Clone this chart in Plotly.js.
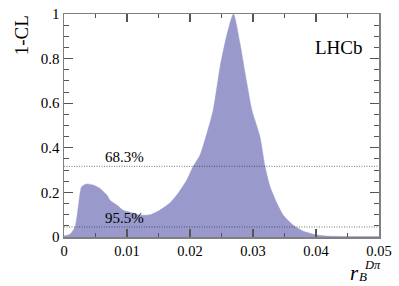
<!DOCTYPE html>
<html>
<head>
<meta charset="utf-8">
<script src="https://cdn.plot.ly/plotly-3.0.1.min.js"></script>
<style>html,body{margin:0;padding:0;background:#fff;}#chart{width:399px;height:286px;}</style>
</head>
<body>
<div id="chart"></div>
<script>
const rB = [0, 0.00095, 0.00175, 0.00227, 0.0028, 0.0036, 0.0046, 0.0057, 0.0068, 0.0073, 0.0084, 0.0094, 0.011, 0.0121, 0.0137, 0.0152, 0.0168, 0.0179, 0.0195, 0.0205, 0.0216, 0.0227, 0.0237, 0.0248, 0.0258, 0.0269, 0.0279, 0.029, 0.0298, 0.0311, 0.0319, 0.0327, 0.0338, 0.0348, 0.0364, 0.038, 0.0398, 0.0417, 0.045, 0.05];
const oneMinusCL = [0.005, 0.012, 0.045, 0.135, 0.225, 0.238, 0.233, 0.218, 0.188, 0.165, 0.143, 0.12, 0.107, 0.098, 0.10, 0.12, 0.152, 0.188, 0.256, 0.316, 0.368, 0.466, 0.571, 0.767, 0.9, 1.0, 0.873, 0.693, 0.571, 0.45, 0.316, 0.226, 0.151, 0.098, 0.053, 0.026, 0.011, 0.004, 0.002, 0.002];
const clLevels = [0.317, 0.045];
const clLabels = ["68.3%", "95.5%"];
const xRange = [0, 0.05];

const serif = "Liberation Serif";
const traces = [{
  x: rB, y: oneMinusCL, type: "scatter", mode: "lines",
  fill: "tozeroy", fillcolor: "rgb(153,153,204)",
  line: {width: 0.5, color: "rgb(153,153,204)", shape: "spline", smoothing: 0.6}, hoverinfo: "skip"
}];
clLevels.forEach(v => traces.push({
  x: xRange, y: [v, v], type: "scatter", mode: "lines",
  line: {color: "#333", width: 0.7, dash: "1px,1.5px"}, hoverinfo: "skip"
}));

const annotations = clLabels.map((t, i) => ({
  x: 0.0062, y: clLevels[i], xref: "x", yref: "y", text: t, showarrow: false,
  xanchor: "left", yanchor: "bottom", yshift: -1,
  font: {family: serif, size: 15, color: "#000"}
}));
annotations.push({xref: "paper", yref: "paper", x: 0.955, y: 0.85, text: "LHCb", showarrow: false,
  xanchor: "right", yanchor: "middle", font: {family: serif, size: 19, color: "#000"}});
annotations.push({xref: "paper", yref: "paper", x: -0.135, y: 1.005, text: "1-CL", showarrow: false,
  textangle: -90, xanchor: "center", yanchor: "top", font: {family: serif, size: 19, color: "#000"}});
// x title r_B^{Dπ}
annotations.push({xref: "paper", yref: "paper", x: 0.94, y: -0.16, text: "<i>r</i>", showarrow: false,
  xanchor: "right", yanchor: "middle", borderpad: 0, font: {family: serif, size: 21, color: "#000"}});
annotations.push({xref: "paper", yref: "paper", x: 0.948, y: -0.125, text: "<i>Dπ</i>", showarrow: false,
  xanchor: "left", yanchor: "middle", borderpad: 0, font: {family: serif, size: 12.5, color: "#000"}});
annotations.push({xref: "paper", yref: "paper", x: 0.934, y: -0.178, text: "<i>B</i>", showarrow: false,
  xanchor: "left", yanchor: "middle", borderpad: 0, font: {family: serif, size: 13, color: "#000"}});

function axis(extra) {
  return Object.assign({
    showgrid: false, zeroline: false, showline: true, linecolor: "#808080", linewidth: 1.5,
    ticks: "inside", mirror: "allticks", tickcolor: "#555", tickwidth: 1.2,
    tickfont: {family: serif, size: 15, color: "#000"}
  }, extra);
}
const layout = {
  width: 399, height: 286, showlegend: false,
  font: {family: serif, size: 15, color: "#000"},
  margin: {l: 64, r: 20, t: 14, b: 49},
  paper_bgcolor: "#fff", plot_bgcolor: "#fff",
  xaxis: axis({range: xRange, dtick: 0.01, tick0: 0, ticklen: 8,
    minor: {dtick: 0.005, ticks: "inside", ticklen: 4, tickcolor: "#555", tickwidth: 1},
    tickformat: "~g", tickfont: {family: serif, size: 14.5, color: "#000"}}),
  yaxis: axis({range: [0, 1], dtick: 0.2, tick0: 0, ticklen: 9,
    minor: {dtick: 0.05, ticks: "inside", ticklen: 5, tickcolor: "#555", tickwidth: 1},
    tickformat: "~g"}),
  annotations: annotations
};
Plotly.newPlot("chart", traces, layout, {staticPlot: true, displayModeBar: false});
</script>
</body>
</html>
